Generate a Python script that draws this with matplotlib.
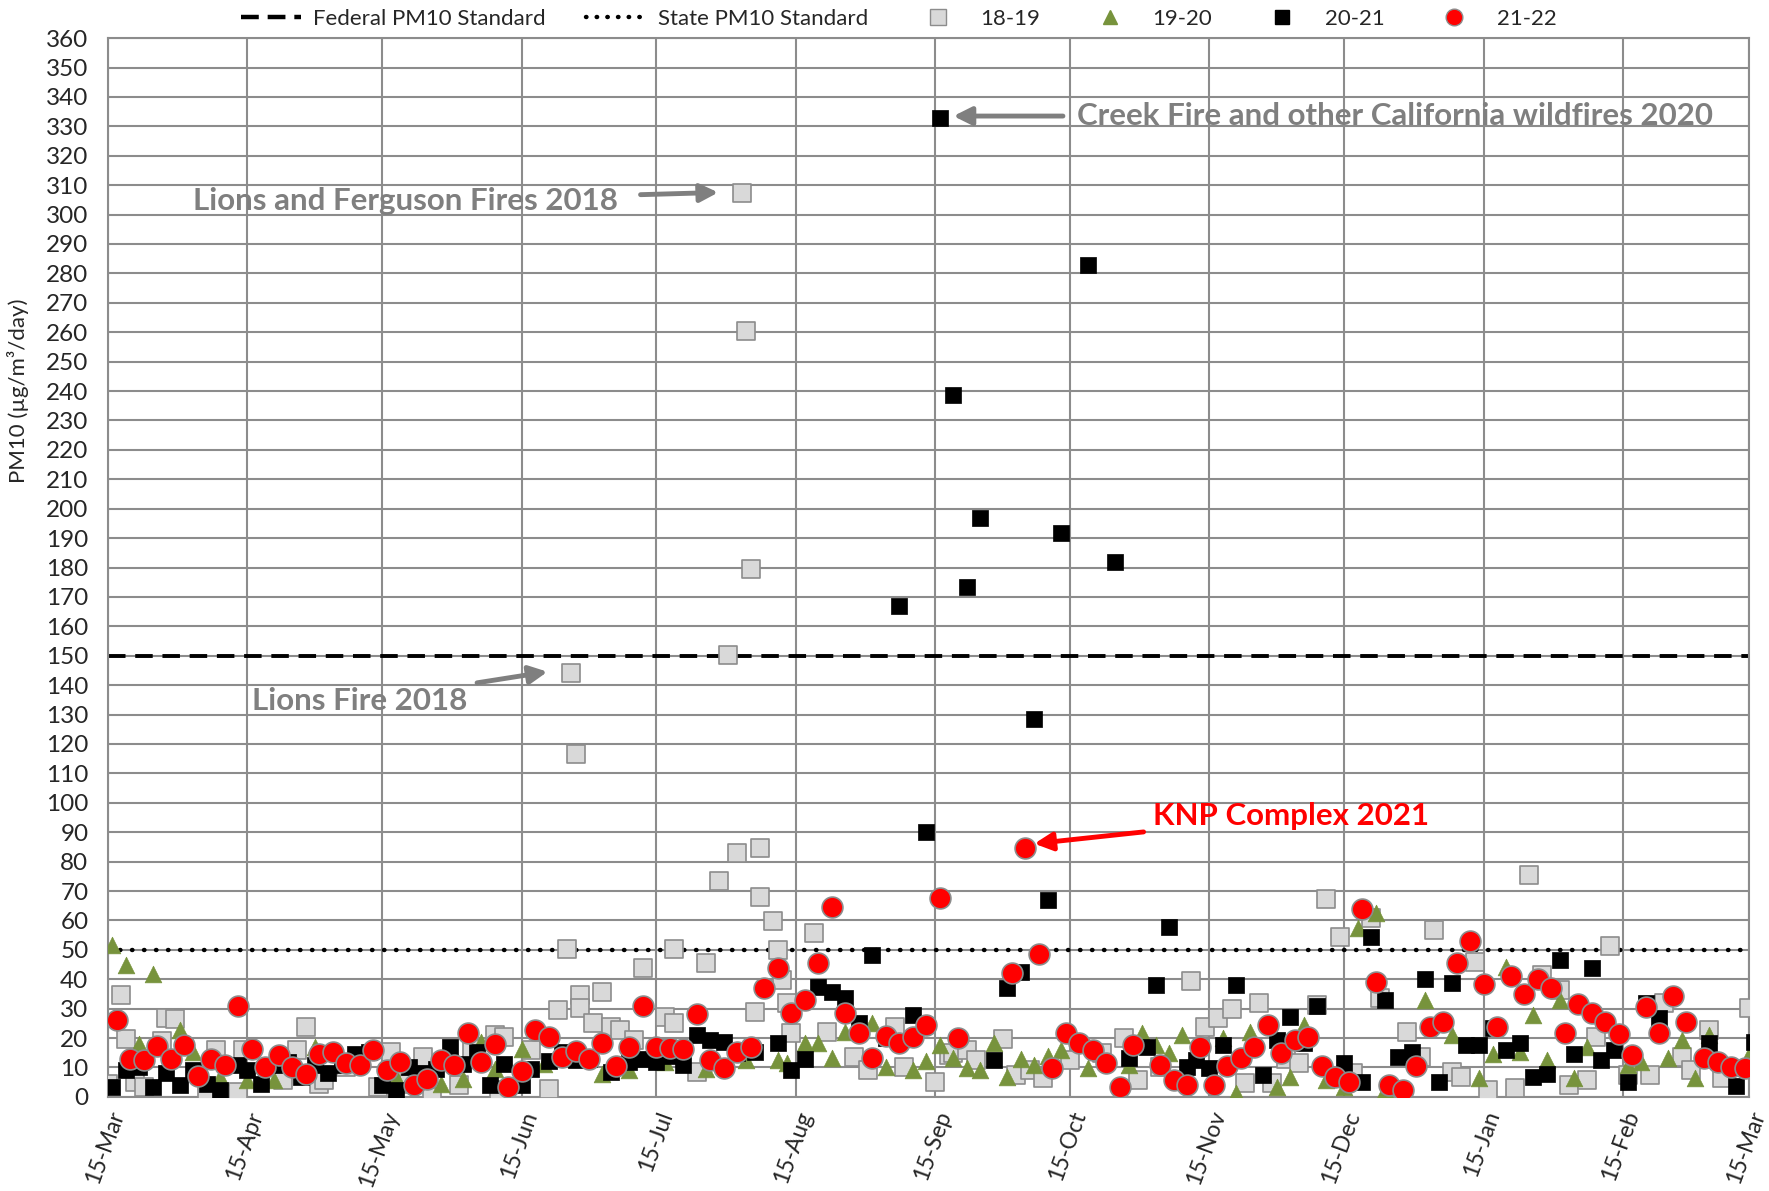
import pandas as pd
import matplotlib
matplotlib.use('Agg')
import matplotlib.pyplot as plt
from matplotlib.lines import Line2D

plt.rcParams['font.family'] = ['Lato', 'DejaVu Sans']

# day offsets from 15-Mar and PM10 values
days_1819 = [0, 3, 4, 6, 8, 12, 13, 15, 22, 24, 29, 30, 39, 42, 44, 47, 48, 53, 60, 63, 67, 70, 72, 78, 81, 86,
             87, 88, 94, 98, 100, 102, 103, 104, 105, 105, 108, 110, 112, 114, 117, 119, 124, 126, 126, 131,
             133, 136, 138, 140, 141, 142, 143, 144, 145, 145, 148, 149, 150, 151, 152, 157, 160, 166, 169,
             175, 177, 184, 187, 188, 191, 193, 199, 202, 205, 208, 214, 221, 226, 229, 234, 241, 244, 247,
             250, 253, 256, 259, 262, 265, 269, 271, 274, 277, 281, 283, 289, 292, 295, 299, 301, 304, 307,
             313, 316, 319, 323, 325, 329, 331, 334, 338, 343, 346, 350, 352, 356, 359, 365]
pm_1819 = [4.5, 34.6, 19.8, 5, 3.4, 19, 27, 26.6, 2.3, 16, 1.7, 16, 5.7, 16, 23.8, 4.5, 5.7, 10.2, 3.4, 15.3,
           4.5, 13.6, 0, 4, 16.4, 21, 2.3, 20.4, 15.9, 2.8, 29.5, 50.4, 144.2, 116.6, 34.6, 30.1, 25, 35.8,
           23.8, 22.7, 19.4, 43.7, 27.2, 50.4, 25, 8.5, 45.5, 73.5, 150.3, 82.8, 307.5, 260.4, 179.4, 28.9,
           84.7, 68, 59.9, 49.9, 39.8, 31.8, 21.9, 55.6, 22.2, 13.7, 9.2, 23.9, 10.3, 4.9, 14.3, 14.8, 16,
           12.6, 19.6, 7.5, 9.2, 6.3, 12.6, 14.8, 19.9, 5.8, 10.3, 39.5, 23.9, 26.7, 29.8, 4.6, 31.8, 4.6,
           12.8, 11.4, 31.3, 67.2, 54.3, 8, 61, 33.5, 22.2, 13.7, 56.9, 8.5, 6.8, 45.9, 2.2, 2.9, 75.3, 41.5,
           36.4, 4, 5.8, 20.5, 51.3, 7.5, 7.5, 31.8, 13.7, 9.2, 22.8, 6.3, 30.1]

days_1920 = [1, 4, 7, 10, 16, 19, 25, 31, 37, 46, 64, 74, 79, 83, 86, 92, 97, 110, 116, 124, 133, 142, 149,
             151, 155, 158, 161, 164, 170, 173, 179, 182, 185, 188, 191, 194, 197, 200, 203, 206, 209, 212,
             218, 227, 230, 233, 236, 239, 248, 251, 254, 260, 263, 266, 271, 275, 278, 282, 284, 293, 299,
             305, 308, 311, 314, 317, 320, 323, 326, 329, 338, 341, 347, 350, 353, 356, 365]
pm_1920 = [51.5, 44.7, 18, 41.7, 22.6, 15.3, 6.8, 5.7, 5.7, 17, 6.8, 4.5, 6.2, 18.7, 9.6, 16.4, 11.3, 7.9, 9.1,
           11.9, 9.6, 12.5, 12.5, 11.4, 18.2, 18.2, 13.1, 22.2, 25, 10.3, 9.2, 12.3, 17.7, 13.1, 9.7, 9,
           18.2, 6.9, 12.8, 10.9, 13.9, 16, 9.7, 10.9, 21.9, 17.7, 14.8, 21.1, 19.9, 1.2, 22.2, 3.5, 6.9,
           24.5, 5.8, 3.5, 57.3, 62.4, 2.4, 33, 21.1, 6.3, 14.7, 44.2, 15.3, 27.8, 12.5, 33, 6.3, 17, 10.9,
           12, 13.1, 19.3, 6.3, 21.1, 14.3]

days_2021 = [1, 4, 7, 10, 13, 16, 19, 22, 25, 29, 31, 34, 37, 40, 43, 46, 49, 52, 55, 58, 61, 64, 67, 70, 73,
             76, 79, 82, 85, 88, 92, 94, 98, 101, 104, 107, 112, 116, 119, 122, 125, 128, 131, 134, 137, 140,
             144, 149, 152, 155, 158, 161, 164, 167, 170, 173, 176, 179, 182, 185, 188, 191, 194, 197, 200,
             203, 206, 209, 212, 218, 224, 227, 231, 233, 236, 240, 242, 245, 248, 251, 257, 260, 263, 266,
             269, 275, 279, 281, 284, 287, 290, 293, 296, 299, 302, 305, 308, 311, 314, 317, 320, 323, 326,
             330, 332, 335, 338, 342, 345, 356, 362, 366]
pm_2021 = [3.4, 9, 10, 3.2, 8, 4, 9, 4.5, 2.5, 11, 9, 4.5, 11, 12, 6.8, 11, 8, 10.8, 14.7, 15.3, 4, 2.5, 10.2,
           8, 9.6, 17, 11.3, 15.3, 4, 11.3, 4, 9.6, 12.2, 15.4, 12.5, 13, 8.6, 12, 13, 12, 14, 10.8, 21, 19.4,
           18.8, 15, 15.4, 18.5, 9.2, 12.8, 37.5, 35.8, 33.5, 25, 48.3, 20, 167, 27.9, 90, 333, 238.5, 173.3,
           197, 12.6, 37, 42.6, 128.5, 67, 191.7, 283, 182, 13.1, 17.1, 38, 57.9, 10.3, 12.6, 9.7, 17.7, 38,
           7.5, 19.4, 27.3, 18.2, 30.9, 11.4, 5.2, 54.3, 33, 13.7, 15.4, 40, 5.2, 38.9, 17.7, 17.7, 23.3,
           16.1, 18.2, 6.9, 7.8, 46.4, 14.6, 43.7, 12.6, 15.8, 5, 31.9, 26.7, 18.2, 3.7, 18.7]

days_2122 = [2, 5, 8, 11, 14, 17, 20, 23, 26, 29, 32, 35, 38, 41, 44, 47, 50, 53, 56, 59, 62, 65, 68, 71, 74,
             77, 80, 83, 86, 89, 92, 95, 98, 101, 104, 107, 110, 113, 116, 119, 122, 125, 128, 131, 134, 137,
             140, 143, 146, 149, 152, 155, 158, 161, 164, 167, 170, 173, 176, 179, 182, 185, 189, 201, 204,
             207, 210, 213, 216, 219, 222, 225, 228, 234, 237, 240, 243, 246, 249, 252, 255, 258, 261, 264,
             267, 270, 273, 276, 279, 282, 285, 288, 291, 294, 297, 300, 303, 306, 309, 312, 315, 318, 321,
             324, 327, 330, 333, 336, 339, 342, 345, 348, 351, 355, 358, 361, 364]
pm_2122 = [26, 13, 12.7, 17.2, 13, 17.6, 7, 13, 10.8, 30.8, 16.4, 10, 14.2, 10.3, 7.7, 14.5, 15.4, 11.4, 10.8,
           15.9, 9.3, 11.9, 4, 6.2, 12.7, 10.8, 21.9, 11.9, 18.1, 3.3, 8.9, 22.7, 20.5, 13.5, 15.7, 13, 18.5,
           10.5, 17, 30.8, 17, 16.5, 16.2, 28.1, 12.5, 9.7, 15.3, 17, 36.9, 43.7, 28.5, 33, 45.4, 64.5, 28.4,
           21.9, 13.1, 20.6, 18.2, 20.5, 24.5, 67.5, 20, 42.3, 84.5, 48.6, 9.7, 21.9, 18.2, 16, 11.7, 3.3,
           17.7, 10.9, 5.8, 4.1, 16.9, 4.1, 10.5, 13.1, 16.9, 24.5, 15.1, 19.4, 20.3, 10.5, 6.7, 5.2, 64,
           39.2, 4.1, 2.2, 10.5, 23.9, 25.6, 45.7, 53.1, 38.4, 23.7, 41, 35, 40.2, 36.9, 21.6, 31.5, 28.5,
           25.6, 21.3, 14.3, 30.6, 21.6, 34.4, 25.6, 13.1, 12, 10.3, 9.7]

federal_std = 150
state_std = 50

start = pd.Timestamp('2021-03-15')


def d(day):
    return start + pd.Timedelta(days=day)


def to_dates(days):
    return start + pd.to_timedelta(days, unit='D')


fig, ax = plt.subplots(figsize=(17.69, 11.91), dpi=100)
fig.subplots_adjust(left=0.061, right=0.9887, top=0.968, bottom=0.079)

grid_c = '#8c8c8c'
ax.axhline(federal_std, color='black', lw=2.8, dashes=(4.5, 2.5), zorder=2)
ax.axhline(state_std, color='black', lw=3.2, dashes=(0.1, 2.6), dash_capstyle='round', zorder=2)

ax.scatter(to_dates(days_1819), pm_1819, marker='s', s=13.5 ** 2, c='#d9d9d9', edgecolors='#8c8c8c',
           linewidths=1.2, zorder=3)
ax.scatter(to_dates(days_1920), pm_1920, marker='^', s=12 ** 2, c='#77933c', edgecolors='#77933c',
           linewidths=0.5, zorder=4)
ax.scatter(to_dates(days_2021), pm_2021, marker='s', s=12 ** 2, c='black', edgecolors='black',
           linewidths=0.5, zorder=5)
ax.scatter(to_dates(days_2122), pm_2122, marker='o', s=15 ** 2, c='#ff0000', edgecolors='#8c8c8c',
           linewidths=1.2, zorder=6)

ax.set_xlim(start, start + pd.Timedelta(days=365))
ax.set_ylim(0, 360)
ax.set_yticks(range(0, 361, 10))
ticks = pd.date_range('2021-03-01', '2022-03-01', freq='MS') + pd.Timedelta(days=14)
ax.set_xticks(ticks)
ax.set_xticklabels([t.strftime('%d-%b') for t in ticks], rotation=70, ha='right', va='top',
                   rotation_mode='anchor')
ax.tick_params(axis='both', length=0, labelsize=17.5, colors='#262626', pad=14)
ax.tick_params(axis='x', labelsize=16.5, pad=8)
ax.grid(True, color=grid_c, lw=1.5, zorder=0)
ax.set_axisbelow(True)
for sp in ax.spines.values():
    sp.set_color(grid_c)
    sp.set_linewidth(1.5)
ax.set_ylabel('PM10 (µg/m³/day)', fontsize=16, color='#262626')
ax.yaxis.set_label_coords(-0.048, 0.667)

# annotations
ann_gray = '#7f7f7f'
arrow_gray = dict(arrowstyle='-|>', lw=3.5, color=ann_gray, mutation_scale=27, shrinkA=8, shrinkB=6)
ax.annotate('Creek Fire and other California wildfires 2020', xy=(d(186.2), 333.5),
            xytext=(d(215.5), 333.5), fontsize=22.5, fontweight='bold', color=ann_gray,
            ha='left', va='center', arrowprops=arrow_gray)
ax.annotate('Lions and Ferguson Fires 2018', xy=(d(137.6), 307.6),
            xytext=(d(19), 304.5), fontsize=22.5, fontweight='bold', color=ann_gray,
            ha='left', va='center', arrowprops=dict(arrow_gray, shrinkA=14))
ax.annotate('Lions Fire 2018', xy=(d(99.6), 145),
            xytext=(d(32), 134.5), fontsize=22.5, fontweight='bold', color=ann_gray,
            ha='left', va='center', arrowprops=dict(arrow_gray, shrinkA=8))
ax.annotate('KNP Complex 2021', xy=(d(204.2), 85.8),
            xytext=(d(232.5), 95.5), fontsize=22.5, fontweight='bold', color='#ff0000',
            ha='left', va='center',
            arrowprops=dict(arrowstyle='-|>', lw=3.5, color='#ff0000', mutation_scale=27, shrinkA=5,
                            shrinkB=6))

handles = [
    Line2D([], [], color='black', lw=3.2, dashes=(4.0, 2.0)),
    Line2D([], [], color='black', lw=3.2, dashes=(0.1, 2.3), dash_capstyle='round'),
    Line2D([], [], ls='none', marker='s', ms=11, mfc='#d9d9d9', mec='#8c8c8c'),
    Line2D([], [], ls='none', marker='^', ms=10, mfc='#77933c', mec='#77933c'),
    Line2D([], [], ls='none', marker='s', ms=10, mfc='black', mec='black'),
    Line2D([], [], ls='none', marker='o', ms=12, mfc='#ff0000', mec='#8c8c8c'),
]
labels = ['Federal PM10 Standard', 'State PM10 Standard', '18-19', '19-20', '20-21', '21-22']
fig.legend(handles, labels, loc='center', bbox_to_anchor=(0.508, 0.984), ncol=6, frameon=False,
           fontsize=16, handlelength=2.7, columnspacing=1.8, handletextpad=0.55, labelcolor='#262626')

fig.savefig('out.png', dpi=100)
